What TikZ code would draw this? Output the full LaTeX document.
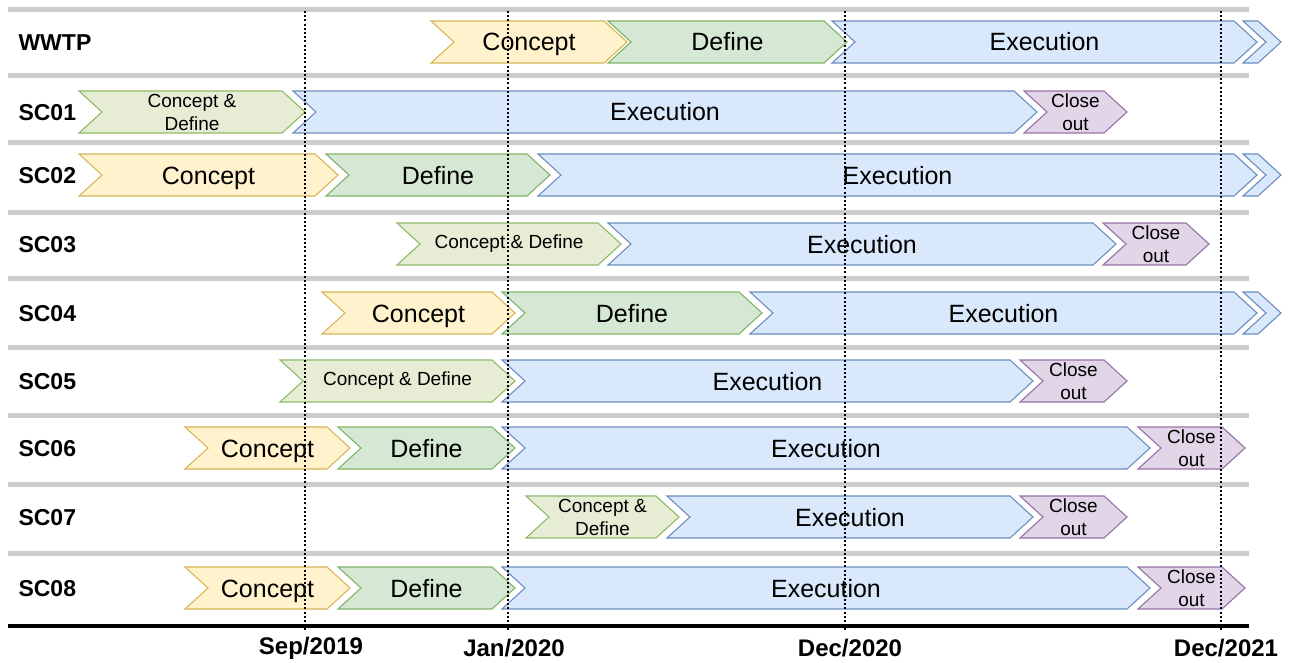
\documentclass[tikz,border=0pt]{standalone}
\usepackage{fontspec}
\setmainfont{Liberation Sans}
\usepackage{tikz}

\definecolor{cptfill}{HTML}{FFF2CC}
\definecolor{cptline}{HTML}{D6B656}
\definecolor{deffill}{HTML}{D5E8D4}
\definecolor{defline}{HTML}{82B366}
\definecolor{cdfill}{HTML}{E6EDD4}
\definecolor{cdline}{HTML}{8DBA6A}
\definecolor{exefill}{HTML}{DAE8FC}
\definecolor{exeline}{HTML}{6C8EBF}
\definecolor{clsfill}{HTML}{E1D5E7}
\definecolor{clsline}{HTML}{9673A6}
\definecolor{sepgray}{HTML}{CCCCCC}

% 矢羽根: [文字の書式]{名前}{スタイル}{左端}{先端}{y}{文字}
\newcommand{\phasebar}[7][bigtxt]{%
	\draw[#3] ({#4},{#6-21}) -- ({#5-23},{#6-21}) -- ({#5},{#6}) -- ({#5-23},{#6+21})
		-- ({#4},{#6+21}) -- ({#4+23},{#6}) -- cycle;
	\node[#1] (#2) at ({(#4+#5)/2},{#6}) {#7};
}

\begin{document}
\begin{tikzpicture}[x=1pt,y=-1pt,
		concept/.style={fill=cptfill,draw=cptline,line width=1.1pt},
		define/.style={fill=deffill,draw=defline,line width=1.1pt},
		cdef/.style={fill=cdfill,draw=cdline,line width=1.1pt},
		exec/.style={fill=exefill,draw=exeline,line width=1.1pt},
		closeout/.style={fill=clsfill,draw=clsline,line width=1.1pt},
		bigtxt/.style={font=\fontsize{25}{30}\selectfont,text height=18pt,text depth=0pt},
		smalltxt/.style={font=\fontsize{19}{23}\selectfont,align=center},
		rowlab/.style={font=\fontsize{23}{27}\selectfont\bfseries,anchor=west},
		datelab/.style={font=\fontsize{24}{28}\selectfont\bfseries},
		sepline/.style={draw=sepgray,line width=5pt},
		datemark/.style={line width=2pt,dash pattern=on 2pt off 2.2pt}]
	\useasboundingbox (0,0) rectangle (1289,663);
	% 行の区切り線
	\foreach \y in {10,76,143,212,278,347,415,484,553}
		\draw[sepline] (8,\y) -- (1249,\y);
	% 時間軸
	\draw[line width=3.5pt] (8,626) -- (1249,626);
	% 行の名前
	\node[rowlab] (wwtp) at (15,43) {WWTP};
	\node[rowlab] (sc01) at (15,113) {SC01};
	\node[rowlab] (sc02) at (15,176) {SC02};
	\node[rowlab] (sc03) at (15,245) {SC03};
	\node[rowlab] (sc04) at (15,314) {SC04};
	\node[rowlab] (sc05) at (15,382) {SC05};
	\node[rowlab] (sc06) at (15,449) {SC06};
	\node[rowlab] (sc07) at (15,518) {SC07};
	\node[rowlab] (sc08) at (15,589) {SC08};
	% WWTP
	\phasebar{wwtpA}{concept}{431}{627}{42}{Concept}
	\phasebar{wwtpB}{define}{608}{847}{42}{Define}
	\phasebar{wwtpC}{exec}{832}{1257}{42}{Execution}
	\phasebar{wwtpD}{exec}{1243}{1281}{42}{}
	% SC01
	\phasebar[smalltxt]{scAa}{cdef}{79}{305}{112}{Concept \&\\Define}
	\phasebar{scAb}{exec}{293}{1037}{112}{Execution}
	\phasebar[smalltxt]{scAc}{closeout}{1024}{1127}{112}{Close\\out}
	% SC02
	\phasebar{scBa}{concept}{79}{338}{175}{Concept}
	\phasebar{scBb}{define}{326}{550}{175}{Define}
	\phasebar{scBc}{exec}{538}{1257}{175}{Execution}
	\phasebar{scBd}{exec}{1243}{1281}{175}{}
	% SC03
	\phasebar[smalltxt]{scCa}{cdef}{397}{621}{244}{Concept \& Define}
	\phasebar{scCb}{exec}{608}{1116}{244}{Execution}
	\phasebar[smalltxt]{scCc}{closeout}{1103}{1209}{244}{Close\\out}
	% SC04
	\phasebar{scDa}{concept}{322}{515}{313}{Concept}
	\phasebar{scDb}{define}{502}{762}{313}{Define}
	\phasebar{scDc}{exec}{750}{1257}{313}{Execution}
	\phasebar{scDd}{exec}{1243}{1281}{313}{}
	% SC05
	\phasebar[smalltxt]{scEa}{cdef}{280}{515}{381}{Concept \& Define}
	\phasebar{scEb}{exec}{502}{1033}{381}{Execution}
	\phasebar[smalltxt]{scEc}{closeout}{1020}{1127}{381}{Close\\out}
	% SC06
	\phasebar{scFa}{concept}{185}{350}{448}{Concept}
	\phasebar{scFb}{define}{338}{515}{448}{Define}
	\phasebar{scFc}{exec}{502}{1150}{448}{Execution}
	\phasebar[smalltxt]{scFd}{closeout}{1138}{1245}{448}{Close\\out}
	% SC07
	\phasebar[smalltxt]{scGa}{cdef}{526}{679}{517}{Concept \&\\Define}
	\phasebar{scGb}{exec}{667}{1033}{517}{Execution}
	\phasebar[smalltxt]{scGc}{closeout}{1020}{1127}{517}{Close\\out}
	% SC08
	\phasebar{scHa}{concept}{185}{350}{588}{Concept}
	\phasebar{scHb}{define}{338}{515}{588}{Define}
	\phasebar{scHc}{exec}{502}{1150}{588}{Execution}
	\phasebar[smalltxt]{scHd}{closeout}{1138}{1245}{588}{Close\\out}
	% 日付の点線
	\coordinate (sep19) at (305,11);
	\coordinate (jan20) at (508,11);
	\coordinate (dec20) at (845,11);
	\coordinate (dec21) at (1221,11);
	\foreach \d in {sep19,jan20,dec20,dec21}
		\draw[datemark] (\d) -- ++(0,619);
	% 日付
	\node[datelab] (sep19lab) at (311,648) {Sep/2019};
	\node[datelab] (jan20lab) at (514,648) {Jan/2020};
	\node[datelab] (dec20lab) at (850,648) {Dec/2020};
	\node[datelab] (dec21lab) at (1226,648) {Dec/2021};
\end{tikzpicture}
\end{document}
